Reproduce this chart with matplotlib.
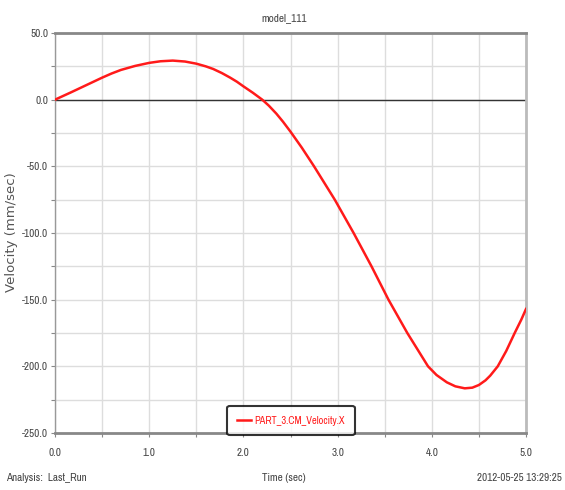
import matplotlib
matplotlib.use("Agg")
import matplotlib.pyplot as plt
from matplotlib.ticker import MultipleLocator, FormatStrFormatter
from matplotlib import font_manager

# Data
time_s = [0.0, 0.17, 0.35, 0.5, 0.6, 0.7, 0.85, 1.0, 1.12, 1.25, 1.38, 1.5, 1.6, 1.68,
          1.77, 1.86, 1.93, 2.0, 2.1, 2.2, 2.27, 2.35, 2.42, 2.5, 2.62, 2.75, 2.97,
          3.17, 3.36, 3.54, 3.74, 3.96, 4.05, 4.16, 4.25, 4.35, 4.43, 4.5, 4.57, 4.62,
          4.7, 4.79, 4.88, 4.95, 5.0]
velocity = [0.0, 5.5, 11.5, 16.5, 19.6, 22.3, 25.3, 27.6, 28.8, 29.3, 28.6, 27.0, 25.0, 23.0,
            20.0, 16.5, 13.5, 10.0, 5.2, 0.0, -4.5, -10.5, -16.5, -24.0, -36.0, -50.0, -75.0,
            -100.0, -125.0, -150.0, -175.0, -200.0, -206.5, -212.0, -215.0, -216.5, -216.0, -214.0, -210.5, -207.0,
            -200.0, -188.5, -175.0, -165.0, -157.0]
series_name = "PART_3.CM_Velocity.X"
title = "model_111"
xlabel = "Time (sec)"
ylabel = "Velocity (mm/sec)"
left_note = "Analysis:  Last_Run"
right_note = "2012-05-25 13:29:25"

# pick a narrow/condensed face if one is installed
narrow = None
for f in font_manager.fontManager.ttflist:
    if "Narrow" in f.name:
        narrow = (f.name, "normal")
        break
if narrow is None:
    for f in font_manager.fontManager.ttflist:
        if f.name == "DejaVu Sans" and str(f.stretch) in ("condensed", "semi-condensed") and f.style == "normal":
            narrow = ("DejaVu Sans", "condensed")
            break
if narrow is None:
    narrow = ("Liberation Sans", "normal")
plt.rcParams["font.family"] = [narrow[0], "DejaVu Sans"]
plt.rcParams["font.stretch"] = narrow[1]
fs = 8 if narrow[0] != "Liberation Sans" else 7.5

txt = "#444444"
fig = plt.figure(figsize=(5.65, 4.9), dpi=100)
ax = fig.add_axes([55/565, 1-433/490, (526-55)/565, (433-33)/490])

ax.plot(time_s, velocity, color="#ff1a1a", lw=1.8, label=series_name, zorder=3,
        solid_joinstyle="round")
ax.axhline(0, color="#333333", lw=1.0, zorder=2)

ax.set_xlim(0, 5)
ax.set_ylim(-250, 50)
ax.xaxis.set_major_locator(MultipleLocator(1.0))
ax.xaxis.set_minor_locator(MultipleLocator(0.5))
ax.yaxis.set_major_locator(MultipleLocator(50))
ax.yaxis.set_minor_locator(MultipleLocator(25))
ax.xaxis.set_major_formatter(FormatStrFormatter("%.1f"))
ax.yaxis.set_major_formatter(FormatStrFormatter("%.1f"))
ax.grid(True, which="both", color="#dddddd", lw=1.0, zorder=0)
ax.tick_params(which="both", direction="out", colors="#888888", labelcolor=txt,
               labelsize=fs, length=3, width=0.8)
ax.tick_params(axis="x", pad=8)
ax.tick_params(axis="y", pad=2)

for side, c, w in [("top", "#888888", 2.0), ("bottom", "#888888", 2.0),
                   ("left", "#999999", 1.0), ("right", "#bbbbbb", 2.0)]:
    ax.spines[side].set_color(c)
    ax.spines[side].set_linewidth(w)

fig.text(284/565, 1-18/490, title, ha="center", va="center", fontsize=fs, color=txt)
fig.text(12/565, 1-232/490, ylabel, ha="center", va="center", rotation=90,
         fontsize=9.5, color="#555555", family=["DejaVu Sans"], stretch="normal")
fig.text(6/565, 1-478/490, left_note, ha="left", va="center", fontsize=fs, color=txt)
fig.text(284/565, 1-478/490, xlabel, ha="center", va="center", fontsize=fs, color=txt)
fig.text(562/565, 1-478/490, right_note, ha="right", va="center", fontsize=fs, color=txt)

leg = ax.legend(loc="lower center", bbox_to_anchor=((291-55)/471, -0.005), frameon=True,
                fontsize=7.5, handlelength=1.4, handletextpad=0.3, borderpad=0.9,
                borderaxespad=0.0, fancybox=True)
leg.get_frame().set_edgecolor("black")
leg.get_frame().set_linewidth(1.5)
for t in leg.get_texts():
    t.set_color("#ff1a1a")

fig.savefig("out.png", dpi=100)
